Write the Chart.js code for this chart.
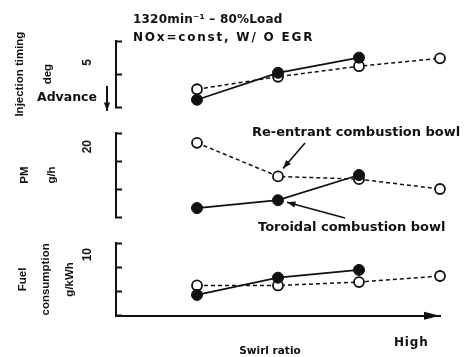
<!DOCTYPE html>
<html>
<head>
<meta charset="utf-8">
<script src="https://cdn.jsdelivr.net/npm/chart.js@4.4.1/dist/chart.umd.min.js"></script>
<style>
  html, body { margin: 0; padding: 0; background: #fff; }
  #wrap { position: relative; width: 466px; height: 357px; }
  #wrap canvas { position: absolute; left: 0; top: 0; }
</style>
</head>
<body>
<div id="wrap">
  <canvas id="inj" width="466" height="357"></canvas>
  <canvas id="pm" width="466" height="357"></canvas>
  <canvas id="fuel" width="466" height="357"></canvas>
</div>
<script>
// swirl ratio steps, low -> high
const swirl = [1, 2, 3, 4];

// injection timing, deg (tick spacing = 5 deg)
const injReentrant = [2.7, 4.6, 6.2, 7.4];
const injToroidal = [1.1, 5.2, 7.5];

// PM, g/h (tick spacing = 20)
const pmReentrant = [53, 29, 27, 20];
const pmToroidal = [6.4, 12, 30];

// fuel consumption, g/kWh (tick spacing = 10)
const fuelReentrant = [12.5, 12.5, 13.9, 16.4];
const fuelToroidal = [8.6, 15.7, 18.9];

// the one label each y axis carries (size of one tick step)
const stepLabels = ['5', '20', '10'];

const INK = '#111';
const FONT = '"DejaVu Sans", sans-serif';

function pts(ys) {
    return ys.map((y, i) => ({x: swirl[i], y: y}));
}

function arrow(ctx, x1, y1, x2, y2) {
    const a = Math.atan2(y2 - y1, x2 - x1);
    ctx.beginPath();
    ctx.moveTo(x1, y1);
    ctx.lineTo(x2, y2);
    ctx.stroke();
    ctx.beginPath();
    ctx.moveTo(x2, y2);
    ctx.lineTo(x2 - 9 * Math.cos(a - 0.35), y2 - 9 * Math.sin(a - 0.35));
    ctx.lineTo(x2 - 9 * Math.cos(a + 0.35), y2 - 9 * Math.sin(a + 0.35));
    ctx.closePath();
    ctx.fill();
}

function text(ctx, s, x, y, size, align, spacing) {
    ctx.font = 'bold ' + size + 'px ' + FONT;
    ctx.textAlign = align || 'left';
    ctx.textBaseline = 'middle';
    ctx.letterSpacing = spacing || '0px';
    ctx.fillText(s, x, y);
    ctx.letterSpacing = '0px';
}

function panel(id, o) {
    return new Chart(document.getElementById(id), {
        type: 'line',
        data: {
            datasets: [{
                label: 'Toroidal combustion bowl',
                data: pts(o.toroidal),
                borderColor: INK,
                borderWidth: 1.8,
                pointRadius: 5.5,
                pointBackgroundColor: INK,
                pointBorderColor: INK,
                pointBorderWidth: 1,
                clip: false
            }, {
                label: 'Re-entrant combustion bowl',
                data: pts(o.reentrant),
                borderColor: INK,
                borderWidth: 1.5,
                borderDash: [4, 3],
                pointRadius: 5,
                pointBackgroundColor: '#fff',
                pointBorderColor: INK,
                pointBorderWidth: 1.8,
                clip: false
            }]
        },
        options: {
            responsive: false,
            animation: false,
            layout: {padding: {top: o.top, bottom: 357 - o.bottom, left: 0, right: 26}},
            plugins: {legend: {display: false}, tooltip: {enabled: false}},
            scales: {
                x: {
                    type: 'linear', min: 0, max: 4,
                    display: o.xAxis,
                    afterFit: (s) => { s.height = 0; },
                    grid: {display: false},
                    ticks: {display: false},
                    border: {color: INK, width: 2}
                },
                y: {
                    min: 0, max: o.max,
                    afterFit: (s) => { s.width = 116; },
                    ticks: {
                        stepSize: o.max / o.steps,
                        color: INK,
                        font: {family: '"Liberation Sans", sans-serif', weight: 'bold', size: 12},
                        minRotation: 90, maxRotation: 90,
                        padding: 34,
                        labelOffset: o.labelOffset,
                        callback: (v) => v === o.max ? o.label : ''
                    },
                    grid: {drawOnChartArea: false, tickLength: -6, tickWidth: 2, color: INK},
                    border: {color: INK, width: 2},
                    title: {
                        display: true,
                        text: o.title,
                        color: INK,
                        font: {family: '"Liberation Sans", sans-serif', weight: 'bold', size: 11.5, lineHeight: o.lh},
                        padding: {top: o.tpad, bottom: 0}
                    }
                }
            }
        },
        plugins: [{id: id + 'Notes', afterDraw: o.notes}]
    });
}

panel('inj', {
    reentrant: injReentrant, toroidal: injToroidal,
    top: 22, bottom: 107, max: 10, steps: 2, label: stepLabels[0], labelOffset: 18,
    title: ['Injection timing', 'deg'], lh: '28px', tpad: 6, xAxis: false,
    notes: (chart) => {
        const ctx = chart.ctx;
        ctx.save();
        ctx.fillStyle = INK;
        ctx.strokeStyle = INK;
        ctx.lineWidth = 2;
        text(ctx, '1320min\u207B\u00B9 \u2013 80%Load', 133, 20, 12, 'left', '0.2px');
        text(ctx, 'NOx=const, W/ O EGR', 133, 38, 12, 'left', '1.8px');
        text(ctx, 'Advance', 37, 98, 12.5);
        arrow(ctx, 107, 86, 107, 111);
        ctx.restore();
    }
});

panel('pm', {
    reentrant: pmReentrant, toroidal: pmToroidal,
    top: 133, bottom: 217, max: 60, steps: 3, label: stepLabels[1], labelOffset: 7,
    title: ['PM', 'g/h'], lh: '27px', tpad: 11.5, xAxis: false,
    notes: (chart) => {
        const ctx = chart.ctx;
        const xs = chart.scales.x, ys = chart.scales.y;
        ctx.save();
        ctx.fillStyle = INK;
        ctx.strokeStyle = INK;
        ctx.lineWidth = 1.6;
        text(ctx, 'Re-entrant combustion bowl', 252, 133, 13);
        text(ctx, 'Toroidal combustion bowl', 258, 228, 13);
        arrow(ctx, 305, 143, xs.getPixelForValue(swirl[1]) + 5, ys.getPixelForValue(pmReentrant[1]) - 8);
        arrow(ctx, 345, 218, xs.getPixelForValue(swirl[1]) + 9, ys.getPixelForValue(pmToroidal[1]) + 2);
        ctx.restore();
    }
});

panel('fuel', {
    reentrant: fuelReentrant, toroidal: fuelToroidal,
    top: 243, bottom: 327, max: 30, steps: 3, label: stepLabels[2], labelOffset: 5,
    title: ['Fuel', 'consumption', 'g/kWh'], lh: '23.5px', tpad: 11, xAxis: true,
    notes: (chart) => {
        const ctx = chart.ctx;
        const a = chart.chartArea;
        ctx.save();
        ctx.fillStyle = INK;
        // arrow head on the swirl ratio axis
        ctx.beginPath();
        ctx.moveTo(a.right, a.bottom);
        ctx.lineTo(a.right - 16, a.bottom - 4);
        ctx.lineTo(a.right - 16, a.bottom + 4);
        ctx.closePath();
        ctx.fill();
        text(ctx, 'Swirl ratio', 270, 351, 10.5, 'center');
        text(ctx, 'High', 394, 343, 12, 'left', '0.8px');
        ctx.restore();
    }
});
</script>
</body>
</html>
